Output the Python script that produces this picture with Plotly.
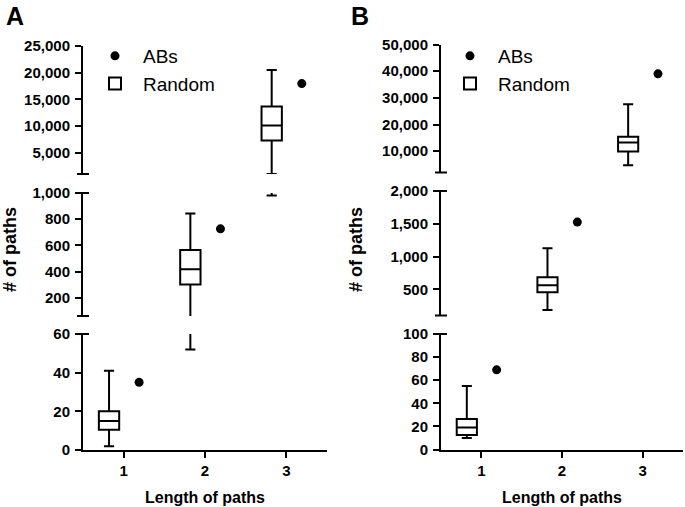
import plotly.graph_objects as go

W, H = 685, 507

# ---------------- data ----------------
lengths = [1, 2, 3]
tick_lengths = ["1", "2", "3"]

# Panel A
A_abs = [35, 726, 17950]
A_q1 = [10.5, 300, 7300]
A_med = [15, 417, 10100]
A_q3 = [20, 564, 13650]
A_lo = [2, 52, 980]
A_hi = [41, 843, 20500]

# Panel B
B_abs = [69, 1526, 39000]
B_q1 = [12.5, 454, 9850]
B_med = [19, 561, 13270]
B_q3 = [26.3, 683, 15400]
B_lo = [10, 185, 4760]
B_hi = [55, 1126, 27600]

# tick labels of the broken y axes (top, middle, bottom segment)
A_ticks = [
    ([5000, 10000, 15000, 20000, 25000], ["5,000", "10,000", "15,000", "20,000", "25,000"]),
    ([200, 400, 600, 800, 1000], ["200", "400", "600", "800", "1,000"]),
    ([0, 20, 40, 60], ["0", "20", "40", "60"]),
]
B_ticks = [
    ([10000, 20000, 30000, 40000, 50000], ["10,000", "20,000", "30,000", "40,000", "50,000"]),
    ([500, 1000, 1500, 2000], ["500", "1,000", "1,500", "2,000"]),
    ([0, 20, 40, 60, 80, 100], ["0", "20", "40", "60", "80", "100"]),
]
A_ranges = [[1000, 25000], [60, 1000], [0, 60]]
B_ranges = [[2000, 50000], [100, 2000], [0, 100]]

# ---------------- layout helpers ----------------
def px_x(p):
    return p / W

def px_y(p):
    return (H - p) / H

FONT = "Liberation Sans, Arial, sans-serif"
tickfont = dict(family=FONT, size=15, color="black", weight="bold")

panels = [
    dict(name="A", xpx=(83, 327), ypx=[(46, 174), (193, 316), (334, 450)],
         data=(A_abs, A_q1, A_med, A_q3, A_lo, A_hi), ticks=A_ticks, ranges=A_ranges,
         legend="legend", legx=87, xaxis="x", yaxes=["y", "y2", "y3"],
         ytitle_x=10, letter_x=4),
    dict(name="B", xpx=(441, 683), ypx=[(44.5, 172.5), (191, 315.5), (334, 449.5)],
         data=(B_abs, B_q1, B_med, B_q3, B_lo, B_hi), ticks=B_ticks, ranges=B_ranges,
         legend="legend2", legx=442, xaxis="x2", yaxes=["y4", "y5", "y6"],
         ytitle_x=356, letter_x=349),
]

fig = go.Figure()
layout = dict(width=W, height=H, margin=dict(l=0, r=0, t=0, b=0, autoexpand=False),
              paper_bgcolor="white", plot_bgcolor="white", showlegend=True)
shapes = []
annotations = []
box_off = -0.18
abs_off = 0.19

for pi, P in enumerate(panels):
    absv, q1, med, q3, lo, hi = P["data"]
    xname = P["xaxis"]
    xkey = "xaxis" if xname == "x" else "xaxis" + xname[1:]
    for si, yname in enumerate(P["yaxes"]):
        first = si == 0
        rmin, rmax = P["ranges"][si]
        # only the values that fall into this segment of the broken axis
        ia = [i for i in range(len(lengths)) if rmin <= absv[i] <= rmax]
        ib = [i for i in range(len(lengths)) if lo[i] <= rmax and hi[i] >= rmin]
        fig.add_trace(go.Scatter(
            x=[lengths[i] + abs_off for i in ia], y=[absv[i] for i in ia],
            mode="markers", name="ABs",
            marker=dict(color="black", size=9),
            xaxis=xname, yaxis=yname, legend=P["legend"], showlegend=first,
            cliponaxis=True))
        fig.add_trace(go.Box(
            x=[lengths[i] + box_off for i in ib],
            q1=[q1[i] for i in ib], median=[med[i] for i in ib], q3=[q3[i] for i in ib],
            lowerfence=[lo[i] for i in ib], upperfence=[hi[i] for i in ib],
            name="Random", width=0.25, whiskerwidth=0.5,
            fillcolor="white", line=dict(color="black", width=2),
            boxpoints=False, xaxis=xname, yaxis=yname,
            legend=P["legend"], showlegend=first))
        ykey = "yaxis" + (yname[1:] if len(yname) > 1 else "")
        y0, y1 = P["ypx"][si]
        tv, tt = P["ticks"][si]
        layout[ykey] = dict(
            domain=[px_y(y1), px_y(y0)], range=P["ranges"][si], anchor=xname,
            tickvals=tv, ticktext=tt, ticks="outside", ticklen=6, tickwidth=2,
            tickcolor="black", showline=True, linecolor="black", linewidth=2,
            showgrid=False, zeroline=False, tickfont=tickfont, ticklabelstandoff=2,
            automargin=False)
        # break marks at the segment ends
        axx = P["xpx"][0]
        if si < 2:
            shapes.append(dict(type="line", xref="paper", yref=yname + " domain",
                               x0=px_x(axx - 6), x1=px_x(axx + 6), y0=0, y1=0,
                               line=dict(color="black", width=2)))
        if si > 0:
            shapes.append(dict(type="line", xref="paper", yref=yname + " domain",
                               x0=px_x(axx - 6), x1=px_x(axx + 6), y0=1, y1=1,
                               line=dict(color="black", width=2)))
    x0, x1 = P["xpx"]
    layout[xkey] = dict(
        domain=[px_x(x0), px_x(x1)], range=[0.5, 3.5], anchor=P["yaxes"][2],
        tickvals=lengths, ticktext=tick_lengths, ticks="outside", ticklen=6, tickwidth=2,
        tickcolor="black", showline=True, linecolor="black", linewidth=2,
        showgrid=False, zeroline=False, tickfont=tickfont, automargin=False,
        title=dict(text="Length of paths", standoff=14,
                   font=dict(family=FONT, size=16, color="black", weight="bold")))
    layout[P["legend"]] = dict(
        x=px_x(P["legx"]), y=px_y(37), xanchor="left", yanchor="top",
        font=dict(family=FONT, size=19, color="black"), bgcolor="rgba(0,0,0,0)",
        itemwidth=46, tracegroupgap=0, traceorder="normal")
    # y title
    annotations.append(dict(text="# of paths", xref="paper", yref="paper",
                            x=px_x(P["ytitle_x"]), y=px_y(250), textangle=-90,
                            showarrow=False, xanchor="center", yanchor="middle",
                            font=dict(family=FONT, size=18, color="black", weight="bold")))
    # panel letter
    annotations.append(dict(text=P["name"], xref="paper", yref="paper",
                            x=px_x(P["letter_x"]), y=px_y(16), showarrow=False,
                            xanchor="left", yanchor="middle",
                            font=dict(family=FONT, size=25, color="black", weight="bold")))

layout["shapes"] = shapes
layout["annotations"] = annotations
fig.update_layout(**layout)
fig.write_html("out.html", config={"displayModeBar": False},
               post_script="document.body.style.margin='0';")
